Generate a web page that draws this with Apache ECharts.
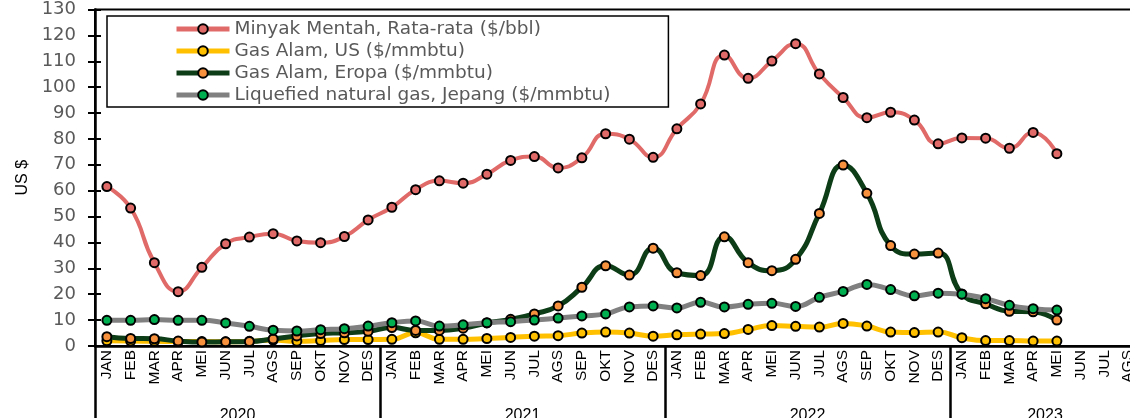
<!DOCTYPE html>
<html>
<head>
<meta charset="utf-8">
<script src="https://cdn.jsdelivr.net/npm/echarts@6/dist/echarts.min.js"></script>
<style>
  html, body { margin: 0; padding: 0; background: #fff; }
  #chart { width: 1130px; height: 418px; }
</style>
</head>
<body>
<div id="chart"></div>
<script>
// Month and year labels for the category axis
const monthNames = ['JAN', 'FEB', 'MAR', 'APR', 'MEI', 'JUN', 'JUL', 'AGS', 'SEP', 'OKT', 'NOV', 'DES'];
const years = ['2020', '2021', '2022', '2023'];
const monthsPerYear = [12, 12, 12, 8];

// Monthly prices, Jan 2020 – May 2023
const crudeOil = [
  61.6, 53.3, 32.2, 21.0, 30.4, 39.5, 42.1, 43.4, 40.6, 39.9, 42.3, 48.7,
  53.6, 60.4, 63.8, 62.9, 66.4, 71.7, 73.2, 68.8, 72.7, 82.0, 79.9, 72.9,
  83.9, 93.5, 112.4, 103.4, 110.1, 116.8, 105.1, 96.0, 88.2, 90.3, 87.3, 78.1,
  80.4, 80.3, 76.4, 82.5, 74.3
];
const gasUS = [
  2.0, 1.9, 1.8, 1.7, 1.7, 1.6, 1.8, 2.3, 1.8, 2.1, 2.5, 2.5,
  2.6, 5.1, 2.6, 2.6, 2.9, 3.3, 3.8, 4.0, 5.0, 5.4, 5.0, 3.8,
  4.3, 4.6, 4.8, 6.4, 7.9, 7.6, 7.3, 8.7, 7.7, 5.4, 5.2, 5.4,
  3.2, 2.1, 2.1, 1.9, 1.9
];
const gasEurope = [
  3.6, 2.9, 2.8, 1.9, 1.5, 1.6, 1.7, 2.7, 3.9, 4.8, 5.1, 5.7,
  7.1, 6.0, 6.0, 6.9, 8.9, 10.3, 12.4, 15.5, 22.7, 31.0, 27.4, 37.8,
  28.3, 27.2, 42.2, 32.2, 29.1, 33.5, 51.2, 69.9, 59.0, 38.8, 35.5, 35.9,
  20.1, 16.3, 13.4, 13.2, 10.0
];
const lngJapan = [
  9.9, 9.9, 10.2, 9.9, 9.9, 8.9, 7.6, 6.1, 5.8, 6.3, 6.7, 7.7,
  9.0, 9.7, 7.7, 8.2, 9.0, 9.4, 10.0, 10.8, 11.6, 12.4, 15.1, 15.5,
  14.7, 16.9, 15.1, 16.1, 16.5, 15.3, 18.8, 21.1, 23.8, 21.8, 19.4, 20.4,
  20.0, 18.3, 15.7, 14.4, 13.9
];
const seriesNames = [
  'Minyak Mentah, Rata-rata ($/bbl)',
  'Gas Alam, US ($/mmbtu)',
  'Gas Alam, Eropa ($/mmbtu)',
  'Liquefied natural gas, Jepang ($/mmbtu)'
];

// Build the month categories and the year band boundaries/centres
const categories = [];
const yearStarts = [];
const yearCentres = [];
let pos = 0;
years.forEach((y, i) => {
  yearStarts.push(pos);
  yearCentres.push(pos + monthsPerYear[i] / 2);
  for (let m = 0; m < monthsPerYear[i]; m++) categories.push(monthNames[m]);
  pos += monthsPerYear[i];
});
const totalMonths = pos;

const FONT = '"Liberation Sans", Arial, sans-serif';
const WIDE_FONT = '"DejaVu Sans", sans-serif';
const BAND = 23.75;

const styles = [
  { line: '#E06A68', width: 4, fill: '#E06A68' },
  { line: '#FFC000', width: 5, fill: '#FFC000' },
  { line: '#0C3D17', width: 5, fill: '#F7913D' },
  { line: '#808080', width: 5, fill: '#00B050' }
];
const seriesData = [crudeOil, gasUS, gasEurope, lngJapan];

const chart = echarts.init(document.getElementById('chart'), null, { renderer: 'canvas' });
chart.setOption({
  animation: false,
  backgroundColor: '#fff',
  grid: {
    left: 95, top: 9.5, width: BAND * totalMonths, height: 336.5,
    outerBoundsMode: 'none',
    containLabel: false,
    show: true, borderColor: '#000', borderWidth: 2, backgroundColor: 'transparent'
  },
  legend: {
    left: 107, top: 16,
    orient: 'vertical',
    backgroundColor: '#fff',
    borderColor: '#000',
    borderWidth: 1.5,
    borderRadius: 0,
    padding: [3, 58, 2, 67],
    itemWidth: 53,
    itemHeight: 12,
    itemGap: 2,
    textStyle: { fontFamily: WIDE_FONT, fontSize: 18.5, color: '#595959', lineHeight: 20 },
    data: seriesNames.map((n, i) => ({
      name: n,
      lineStyle: { color: styles[i].line, width: 5 }
    }))
  },
  xAxis: [
    {
      type: 'category',
      data: categories,
      boundaryGap: true,
      position: 'bottom',
      axisLine: { show: true, lineStyle: { color: '#000', width: 2.5 } },
      axisTick: { show: false },
      axisLabel: {
        interval: 0, rotate: 90, margin: 4,
        fontFamily: FONT, fontSize: 15.5, color: '#000'
      },
      splitLine: { show: false }
    },
    {
      type: 'value',
      min: 0, max: totalMonths,
      position: 'bottom',
      axisLine: { show: false },
      axisTick: {
        show: true, inside: false, length: 80,
        customValues: yearStarts,
        lineStyle: { color: '#000', width: 2.5 }
      },
      axisLabel: {
        show: true, margin: 62,
        customValues: yearCentres,
        formatter: v => years[yearCentres.indexOf(v)] || '',
        fontFamily: FONT, fontSize: 16, color: '#000'
      },
      splitLine: { show: false }
    }
  ],
  yAxis: [
    {
      type: 'value',
      min: 0, max: 130, interval: 10,
      name: 'US $',
      nameLocation: 'middle',
      nameGap: 62,
      nameTextStyle: { fontFamily: FONT, fontSize: 16, color: '#000' },
      axisLine: { show: true, lineStyle: { color: '#000', width: 2.5 } },
      axisTick: { show: true, length: 7, lineStyle: { color: '#000', width: 2 } },
      axisLabel: { margin: 19, fontFamily: WIDE_FONT, fontSize: 18, color: '#595959' },
      splitLine: { show: false }
    },
    {
      type: 'value',
      min: 0, max: 130, interval: 10,
      position: 'left',
      axisLine: { show: false },
      axisTick: { show: true, inside: true, length: 6, lineStyle: { color: '#000', width: 2 } },
      axisLabel: { show: false },
      splitLine: { show: false }
    }
  ],
  series: seriesNames.map((n, i) => ({
    name: n,
    type: 'line',
    data: seriesData[i],
    xAxisIndex: 0,
    yAxisIndex: 0,
    smooth: 0.5,
    symbol: 'circle',
    symbolSize: 9,
    showSymbol: true,
    z: 2 + i,
    lineStyle: { color: styles[i].line, width: styles[i].width },
    itemStyle: { color: styles[i].fill, borderColor: '#000', borderWidth: 2 },
    emphasis: { disabled: true }
  }))
});
</script>
</body>
</html>
